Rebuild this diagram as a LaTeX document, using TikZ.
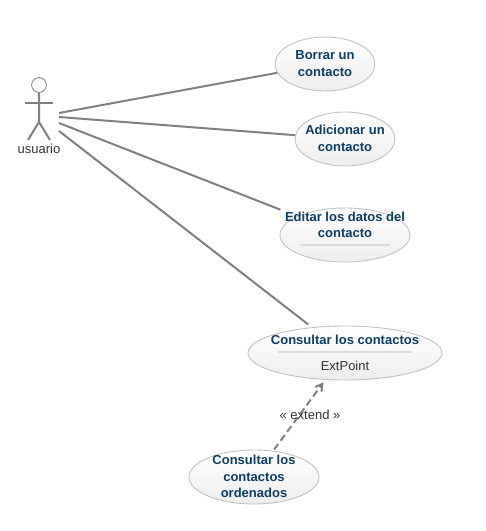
\documentclass[tikz,border=0pt]{standalone}
\usepackage{fontspec}
\setmainfont{Liberation Sans}
\usetikzlibrary{shapes.geometric,arrows}
\definecolor{casetext}{HTML}{0F3D62}
\definecolor{caseline}{HTML}{C2C2C2}
\definecolor{linkgray}{HTML}{808080}
\definecolor{barline}{HTML}{DADADA}
\definecolor{plaintext}{HTML}{333333}
\tikzset{
  usecase/.style={ellipse,draw=caseline,line width=0.9pt,top color=white,bottom color=black!7,inner sep=0pt,minimum height=54pt},
  casename/.style={align=center,text=casetext,font=\fontsize{13}{16.5}\selectfont\bfseries,inner sep=0pt},
  plainname/.style={text=plaintext,font=\fontsize{13}{15}\selectfont,inner sep=0pt},
  link/.style={draw=linkgray,line width=2pt},
  casebar/.style={draw=barline,line width=2pt},
  stick/.style={draw=linkgray,line width=2pt}
}
\begin{document}
\begin{tikzpicture}[x=1pt,y=-1pt]
  \useasboundingbox (0,0) rectangle (486,531);
  \draw[line width=0.9pt,draw=black!45,fill=white] (39,85) circle (7.4);
  \draw[stick] (39,92.5) -- (39,122) -- (28,140);
  \draw[stick] (39,122) -- (50,140);
  \draw[stick] (25,103) -- (53,103);
  \node[plainname] (usuario) at (39,149) {usuario};
  \coordinate (actorA) at (59,113);
  \coordinate (actorB) at (59,117);
  \coordinate (actorC) at (59,123);
  \coordinate (actorD) at (59,131);
  \node[usecase,minimum width=100pt] (borrar) at (325,64) {};
  \node[usecase,minimum width=100pt] (adicionar) at (345,139) {};
  \node[usecase,minimum width=130pt] (editar) at (345,235) {};
  \node[usecase,minimum width=194pt] (consultar) at (345,353) {};
  \node[usecase,minimum width=130pt] (ordenados) at (254,477) {};
  \node[casename] (borrarname) at (325,63.5) {Borrar un\\contacto};
  \node[casename] (adicionarname) at (345,138.5) {Adicionar un\\contacto};
  \node[casename] (editarname) at (345,225) {Editar los datos del\\contacto};
  \node[casename] (consultarname) at (345,339.5) {Consultar los contactos};
  \node[plainname] (extpoint) at (345,366) {ExtPoint};
  \node[casename] (ordenadosname) at (254,476.5) {Consultar los\\contactos\\ordenados};
  \draw[casebar] (300,245) -- (390,245);
  \draw[casebar] (278,352) -- (412,352);
  \draw[link] (actorA) -- (borrar);
  \draw[link] (actorB) -- (adicionar);
  \draw[link,shorten >=18pt] (actorC) -- (editar);
  \draw[link,shorten >=4.5pt] (actorD) -- (consultar);
  \draw[link,->,>=angle 60,dash pattern=on 7pt off 4pt,shorten <=1.5pt,shorten >=3pt] (ordenados) -- (consultar);
  \node[plainname] (extend) at (310,415) {« extend »};
\end{tikzpicture}
\end{document}
